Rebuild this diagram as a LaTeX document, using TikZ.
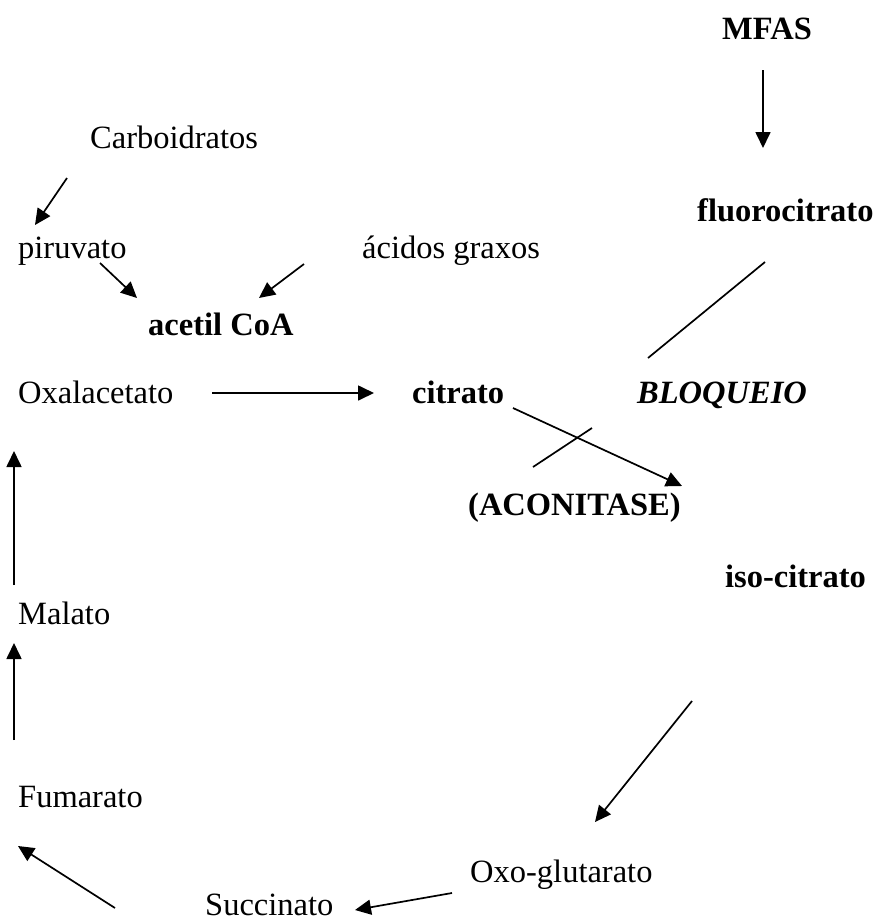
\documentclass[tikz,border=0pt]{standalone}
\usepackage{fontspec}
\setmainfont{Liberation Serif}
\usetikzlibrary{arrows.meta}
\begin{document}
\begin{tikzpicture}[x=1pt,y=-1pt,
  lbl/.style={anchor=base west,inner sep=0pt,font=\fontsize{32.5}{38}\selectfont},
  blbl/.style={lbl,font=\fontsize{32.5}{38}\selectfont\bfseries},
  arr/.style={line width=1.7pt,-{Triangle[length=16pt,width=15pt]}},
  ln/.style={line width=1.7pt}]
\useasboundingbox (0,0) rectangle (876,922);
\node[blbl] (mfas) at (722,39) {MFAS};
\node[lbl] (carb) at (90,148) {Carboidratos};
\node[blbl] (fluoro) at (697,221) {fluorocitrato};
\node[lbl] (piru) at (18,258) {piruvato};
\node[lbl] (acidos) at (362,258) {ácidos graxos};
\node[blbl] (acetil) at (148,335) {acetil CoA};
\node[lbl] (oxal) at (18,403) {Oxalacetato};
\node[blbl] (citrato) at (412,403) {citrato};
\node[blbl,font=\fontsize{32.5}{38}\selectfont\bfseries\itshape] (bloq) at (637,403) {BLOQUEIO};
\node[blbl] (acon) at (468,515) {(ACONITASE)};
\node[blbl] (iso) at (725,587) {iso-citrato};
\node[lbl] (malato) at (18,624) {Malato};
\node[lbl] (fuma) at (18,807) {Fumarato};
\node[lbl] (oxo) at (470,882) {Oxo-glutarato};
\node[lbl] (succ) at (205,915) {Succinato};
% connector end points
\coordinate (m1) at (763,70);   \coordinate (m2) at (763,148);
\coordinate (c1) at (67,178);   \coordinate (c2) at (35,225);
\coordinate (p1) at (100,263);  \coordinate (p2) at (137,298);
\coordinate (a1) at (304,264);  \coordinate (a2) at (259,298);
\coordinate (f1) at (765,262);  \coordinate (f2) at (648,358);
\coordinate (o1) at (212,393);  \coordinate (o2) at (374,393);
\coordinate (ct1) at (513,408); \coordinate (ct2) at (682,486);
\coordinate (x1) at (533,467);  \coordinate (x2) at (592,428);
\coordinate (i1) at (692,701);  \coordinate (i2) at (595,822);
\coordinate (g1) at (452,893);  \coordinate (g2) at (355,910);
\coordinate (s1) at (115,908);  \coordinate (s2) at (18,846);
\coordinate (fm1) at (14,740);  \coordinate (fm2) at (14,643);
\coordinate (ml1) at (14,585);  \coordinate (ml2) at (14,451);
\draw[arr] (m1) -- (m2);
\draw[arr] (c1) -- (c2);
\draw[arr] (p1) -- (p2);
\draw[arr] (a1) -- (a2);
\draw[ln] (f1) -- (f2);
\draw[arr] (o1) -- (o2);
\draw[arr] (ct1) -- (ct2);
\draw[ln] (x1) -- (x2);
\draw[arr] (i1) -- (i2);
\draw[arr] (g1) -- (g2);
\draw[arr] (s1) -- (s2);
\draw[arr] (fm1) -- (fm2);
\draw[arr] (ml1) -- (ml2);
\end{tikzpicture}
\end{document}
